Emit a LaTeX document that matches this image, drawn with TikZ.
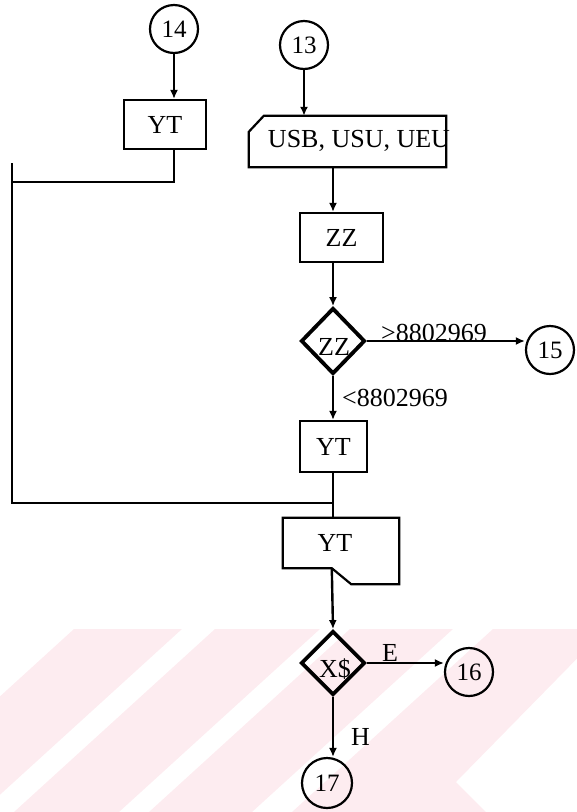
\documentclass[tikz,border=0pt]{standalone}
\usepackage{fontspec}
\setmainfont{Liberation Serif}
\usetikzlibrary{shapes.geometric,arrows.meta,calc}
\definecolor{wmpink}{RGB}{253,236,240}
\begin{document}
\begin{tikzpicture}[x=1pt,y=-1pt,
  line width=2.4pt,
  lbl/.style={font=\fontsize{26}{30}\selectfont, inner sep=0pt},
  boxnode/.style={draw, line width=2.2pt, inner sep=0pt, font=\fontsize{26}{30}\selectfont},
  conn/.style={draw, circle, line width=2.2pt, minimum size=48pt, inner sep=0pt, font=\fontsize{25}{28}\selectfont},
  dec/.style={draw, diamond, line width=3.8pt, minimum width=64pt, minimum height=66pt, inner sep=0pt},
  arr/.style={-{Latex[length=9pt,width=8pt]}},
  shapeline/.style={draw, line width=2.2pt, line join=miter}
]
\useasboundingbox (0,0) rectangle (577,812);
% watermark stripes
\begin{scope}
  \clip (0,0) rectangle (577,812);
  \fill[wmpink] (74,629) -- (182,629) -- (-19,812) -- (-127,812) -- cycle;
  \fill[wmpink] (215,629) -- (320,629) -- (119,812) -- (14,812) -- cycle;
  \fill[wmpink] (350,629) -- (453,629) -- (252,812) -- (149,812) -- cycle;
  \fill[wmpink] (493,629) -- (606,629) -- (456,782) -- (486,812) -- (292,812) -- cycle;
\end{scope}

\coordinate (mx) at (333,0);

% left branch
\node[conn] (c14) at (174,29) {14};
\node[boxnode, minimum width=82pt, minimum height=49pt] (yt1) at (165,124.5) {YT};
\draw[arr] (c14) -- (c14 |- yt1.north);
\coordinate (j1) at (174,182);
\coordinate (ltop) at (12,163);
\coordinate (lbot) at (12,503);
\coordinate (j2) at (333,503);
\draw (c14 |- yt1.south) -- (j1) -- (j1 -| ltop);
\draw (ltop) -- (lbot) -- (j2);

% main column
\node[conn] (c13) at (304,45) {13};
\node[minimum width=195pt, minimum height=49pt, inner sep=0pt] (card) at (347.5,141.5) {};
\draw[shapeline] ($(card.north west)+(15,0)$) -- (card.north east) -- (card.south east)
  -- (card.south west) -- ($(card.north west)+(0,16)$) -- cycle;
\node[lbl] (cardt) at (359,141) {USB, USU, UEU};
\draw[arr] (c13) -- (c13 |- card.north);

\node[boxnode, minimum width=83pt, minimum height=49pt] (zz1) at (341.5,237.5) {ZZ};
\draw[arr] (card.south -| mx) -- (zz1.north -| mx);

\node[dec] (d1) at (333,341) {};
\node[lbl] (d1t) at (334,347) {ZZ};
\draw[arr] (zz1.south -| mx) -- (d1.north);

\node[conn] (c15) at (550,350) {15};
\draw[arr] (d1.east) -- (d1.east -| c15.west);
\node[lbl, anchor=base west] (g1) at (380,341) {>8802969};

\node[boxnode, minimum width=67pt, minimum height=51pt] (yt2) at (333.5,446.5) {YT};
\draw[arr] (d1.south) -- (d1.south |- yt2.north);
\node[lbl, anchor=base west] (l1) at (341,406) {<8802969};

\node[minimum width=114pt, minimum height=64pt, inner sep=0pt] (doc) at (341,551) {};
\coordinate (notch) at ($(doc.south west)+(49,-16)$);
\draw[shapeline] (doc.north west) -- (doc.north east) -- (doc.south east)
  -- ($(doc.south east)+(-48,0)$) -- (notch) -- ($(doc.south west)+(0,-16)$) -- cycle;
\node[lbl] (doct) at (335,543) {YT};
\draw (yt2.south -| mx) -- (doc.north -| mx);

\node[dec, minimum height=64pt] (d2) at (333,663) {};
\node[lbl] (d2t) at (335,669) {X\$};
\draw[arr] (notch) -- (d2.north);

\node[conn] (c16) at (469,672) {16};
\draw[arr] (d2.east) -- (d2.east -| c16.west);
\node[lbl, anchor=base] (e) at (390,661) {E};

\node[conn, minimum size=50pt] (c17) at (327,783) {17};
\draw[arr] (d2.south) -- (d2.south |- c17.north);
\node[lbl, anchor=base west] (h) at (350,745) {H};
\end{tikzpicture}
\end{document}
